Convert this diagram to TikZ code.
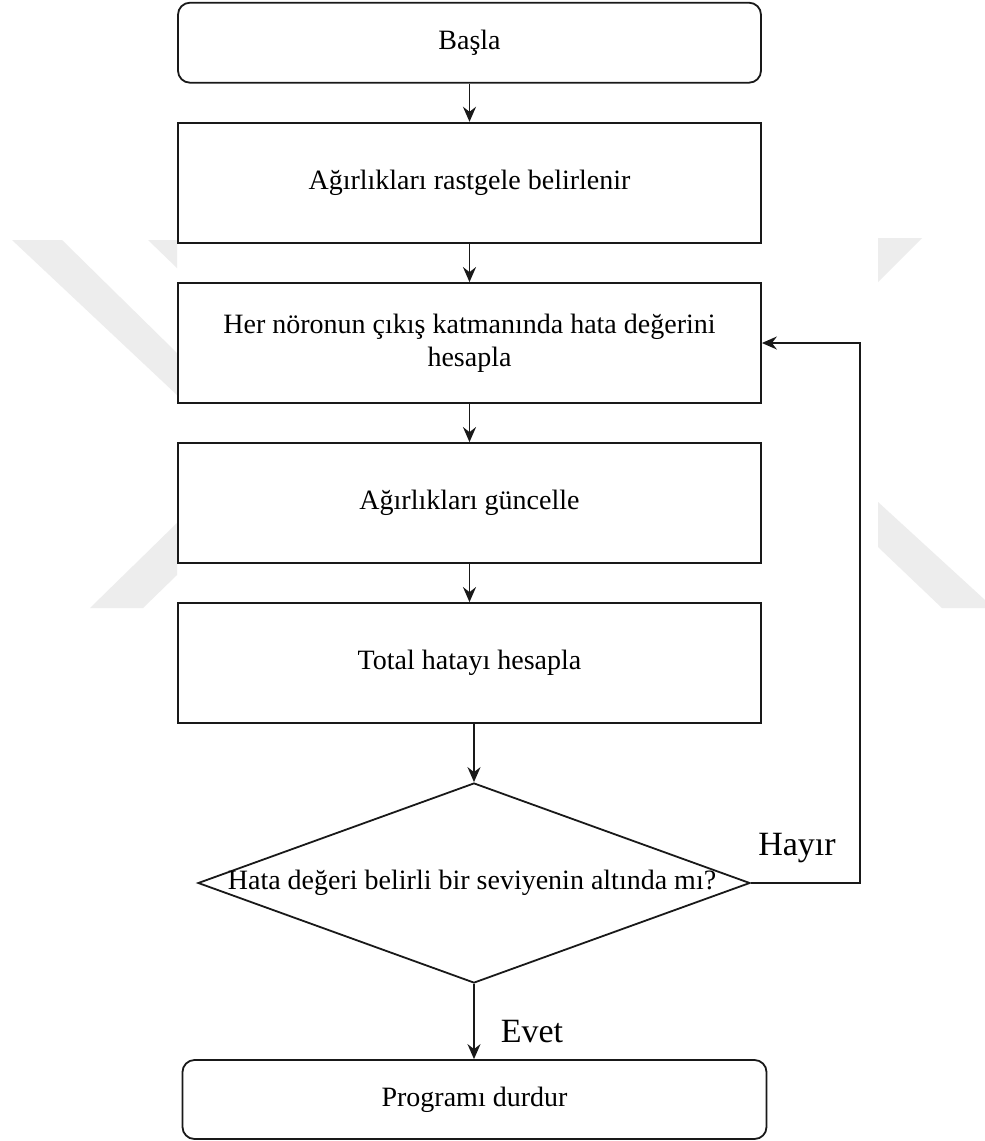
\documentclass[tikz,border=0pt]{standalone}
\usepackage{fontspec}
\setmainfont{Liberation Serif}
\usetikzlibrary{shapes.geometric,arrows.meta}
\begin{document}
\begin{tikzpicture}[x=1pt,y=-1pt,
  box/.style={draw=black!90, line width=1.8pt, fill=white, minimum width=583pt, inner sep=0pt, font=\fontsize{28}{33}\selectfont, align=center},
  rbox/.style={box, rounded corners=12pt},
  decision/.style={draw=black!90, line width=1.8pt, fill=white, diamond, minimum width=552pt, minimum height=200pt, inner sep=0pt},
  flow/.style={draw=black!90, line width=1.8pt, -{Stealth[length=15pt,width=13pt,inset=5pt]}},
  lbl/.style={font=\fontsize{34}{40}\selectfont, inner sep=0pt},
  txt/.style={font=\fontsize{28}{33}\selectfont, inner sep=0pt},
  wm/.style={fill=black!7, draw=none}]
\useasboundingbox (0,0) rectangle (985,1141);
\fill[white] (0,0) rectangle (985,1141);
% watermark
\fill[wm] (12,240) -- (62,240) -- (177,353) -- (177,395) -- cycle;
\fill[wm] (148,240) -- (177,240) -- (177,268) -- cycle;
\fill[wm] (90,608) -- (143,608) -- (177,575) -- (177,523) -- cycle;
\fill[wm] (878,238) -- (922,238) -- (878,282) -- cycle;
\fill[wm] (878,502) -- (985,600) -- (985,608) -- (942,608) -- (878,547) -- cycle;
% nodes
\node[rbox, minimum height=80pt] (b1) at (469.5,42.7) {Başla};
\node[box, minimum height=120pt] (b2) at (469.5,182.7) {Ağırlıkları rastgele belirlenir};
\node[box, minimum height=120pt] (b3) at (469.5,343) {Her nöronun çıkış katmanında hata değerini\\hesapla};
\node[box, minimum height=120pt] (b4) at (469.5,503) {Ağırlıkları güncelle};
\node[box, minimum height=120pt] (b5) at (469.5,663) {Total hatayı hesapla};
\node[decision] (dia) at (474,883) {};
\node[txt] (q) at (472,883) {Hata değeri belirli bir seviyenin altında mı?};
\node[rbox, minimum width=584pt, minimum height=79pt] (end) at (474.5,1099.5) {Programı durdur};
\node[lbl] (hayir) at (797,848) {Hayır};
\node[lbl] (evet) at (532,1032) {Evet};
\coordinate (turn) at (860,883);
% connectors
\draw[flow] (b1) -- (b2);
\draw[flow] (b2) -- (b3);
\draw[flow] (b3) -- (b4);
\draw[flow] (b4) -- (b5);
\draw[flow] (b5.south -| dia.north) -- (dia.north);
\draw[flow] (dia.south) -- (dia.south |- end.north);
\draw[flow] (dia.east) -- (turn) |- (b3.east);
\end{tikzpicture}
\end{document}
